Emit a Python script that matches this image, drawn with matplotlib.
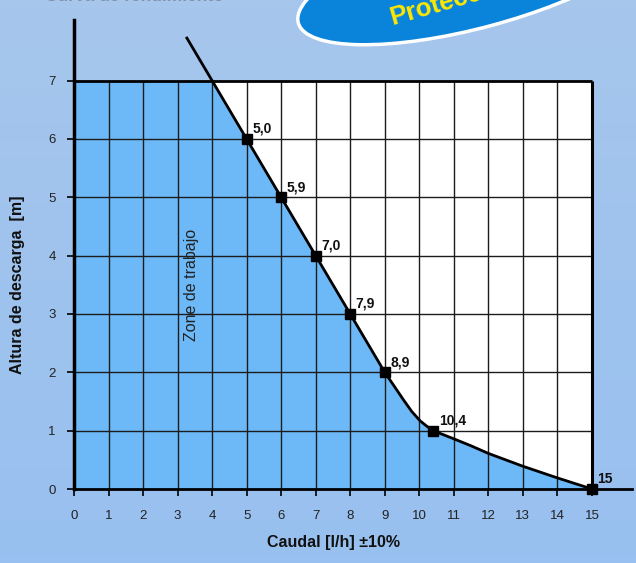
import numpy as np
import matplotlib.pyplot as plt
from matplotlib.patches import Rectangle, Ellipse
from matplotlib.transforms import IdentityTransform
from matplotlib.colors import LinearSegmentedColormap

plt.rcParams['font.family'] = ['Liberation Sans', 'DejaVu Sans']

# markers on the curve and the flow values printed next to them
point_x = [5, 6, 7, 8, 9, 10.4, 15]
point_y = [6, 5, 4, 3, 2, 1, 0]
point_labels = ['5,0', '5,9', '7,0', '7,9', '8,9', '10,4', '15']

# pump curve
curve_x = [3.27, 4, 5, 6, 7, 8, 9, 9.3, 9.54, 9.78, 10.02, 10.21, 10.4,
           11, 11.5, 12, 13, 14, 15]
curve_y = [7.73, 7, 6, 5, 4, 3, 2, 1.74, 1.53, 1.33, 1.17, 1.08, 1.0,
           0.86, 0.74, 0.61, 0.39, 0.19, 0]

x_ticks = list(range(0, 16))
y_ticks = list(range(0, 8))

FILL = '#6db9f7'
GRID = '#1c1c1c'

fig = plt.figure(figsize=(6.36, 5.63), dpi=100)
fig.patch.set_facecolor('#9fc3ee')

# soft background
bg = fig.add_axes([0, 0, 1, 1], zorder=-5)
cmap = LinearSegmentedColormap.from_list('bg', ['#a6c6ec', '#98c0f0'])
bg.imshow(np.linspace(0, 1, 64).reshape(-1, 1), aspect='auto', cmap=cmap,
          extent=[0, 1, 0, 1])
bg.axis('off')

ax = fig.add_axes([74 / 636, 74 / 563, 558 / 636, 469 / 563])
ax.set_facecolor('none')
ax.set_xlim(0, 16.16)
ax.set_ylim(0, 8.04)

x_max, y_max = x_ticks[-1], y_ticks[-1]
ax.add_patch(Rectangle((0, 0), x_max, y_max, facecolor='white',
                       edgecolor='none', zorder=0))

# working zone under the curve, kept inside the grid
clip = Rectangle((0, 0), x_max, y_max, transform=ax.transData)
poly = ax.fill_between([0] + curve_x, [curve_y[0]] + curve_y, 0,
                       color=FILL, lw=0, zorder=1)
poly.set_clip_path(clip)

# grid
ax.vlines(x_ticks[1:-1], 0, y_max, colors=GRID, lw=1, zorder=2)
ax.hlines(y_ticks[1:-1], 0, x_max, colors=GRID, lw=1, zorder=2)
ax.hlines(y_max, 0, x_max, colors='black', lw=2, zorder=3)
ax.vlines(x_max, 0, y_max, colors='black', lw=2.2, zorder=3)

ax.plot(curve_x, curve_y, color='black', lw=2, zorder=4, clip_on=False,
        solid_joinstyle='round')
ax.plot(point_x, point_y, 's', ms=6.5, color='black', zorder=5, clip_on=False)
for x, y, lab in zip(point_x, point_y, point_labels):
    ax.annotate(lab, (x, y), xytext=(4, 4.5), textcoords='offset points',
                ha='left', va='baseline', fontsize=10, fontweight='bold',
                color='#111', zorder=6)

ax.text(3.39, 3.5, 'Zone de trabajo', rotation=90, ha='center', va='center',
        fontsize=11.5, color='#222', zorder=6)

for s in ['top', 'right']:
    ax.spines[s].set_visible(False)
ax.spines['left'].set_linewidth(2.5)
ax.spines['bottom'].set_linewidth(2)
ax.spines['left'].set_zorder(7)
ax.spines['bottom'].set_zorder(7)

ax.set_xticks(x_ticks)
ax.set_yticks(y_ticks)
ax.tick_params(direction='out', length=5, width=1.2, labelsize=9.5,
               labelcolor='#222')
ax.tick_params(axis='x', pad=10)
ax.tick_params(axis='y', pad=8)

fig.text(333 / 636, 1 - 543 / 563, 'Caudal [l/h] ±10%', ha='center',
         va='center', fontsize=11.5, fontweight='bold', color='#111')
fig.text(18 / 636, 1 - 285 / 563, 'Altura de descarga  [m]', ha='center',
         va='center', rotation=90, fontsize=11.5, fontweight='bold',
         color='#111')

# cropped header text and badge at the top
fig.text(45 / 636, 1 - 1 / 563, 'Curva de rendimiento', ha='left',
         va='baseline', fontsize=12.5, fontweight='bold', color='#8193ab')
badge = Ellipse((477, 563 + 25), width=370, height=105, angle=15,
                transform=IdentityTransform(), facecolor='#0a84da',
                edgecolor='white', lw=2.5)
fig.add_artist(badge)
fig.text(392 / 636, 1 - 25 / 563, 'Protección', rotation=16,
         rotation_mode='anchor', ha='left', va='baseline', fontsize=18.5,
         fontweight='bold', color='#ffe800')

fig.savefig('out.png', dpi=100, facecolor=fig.get_facecolor())
